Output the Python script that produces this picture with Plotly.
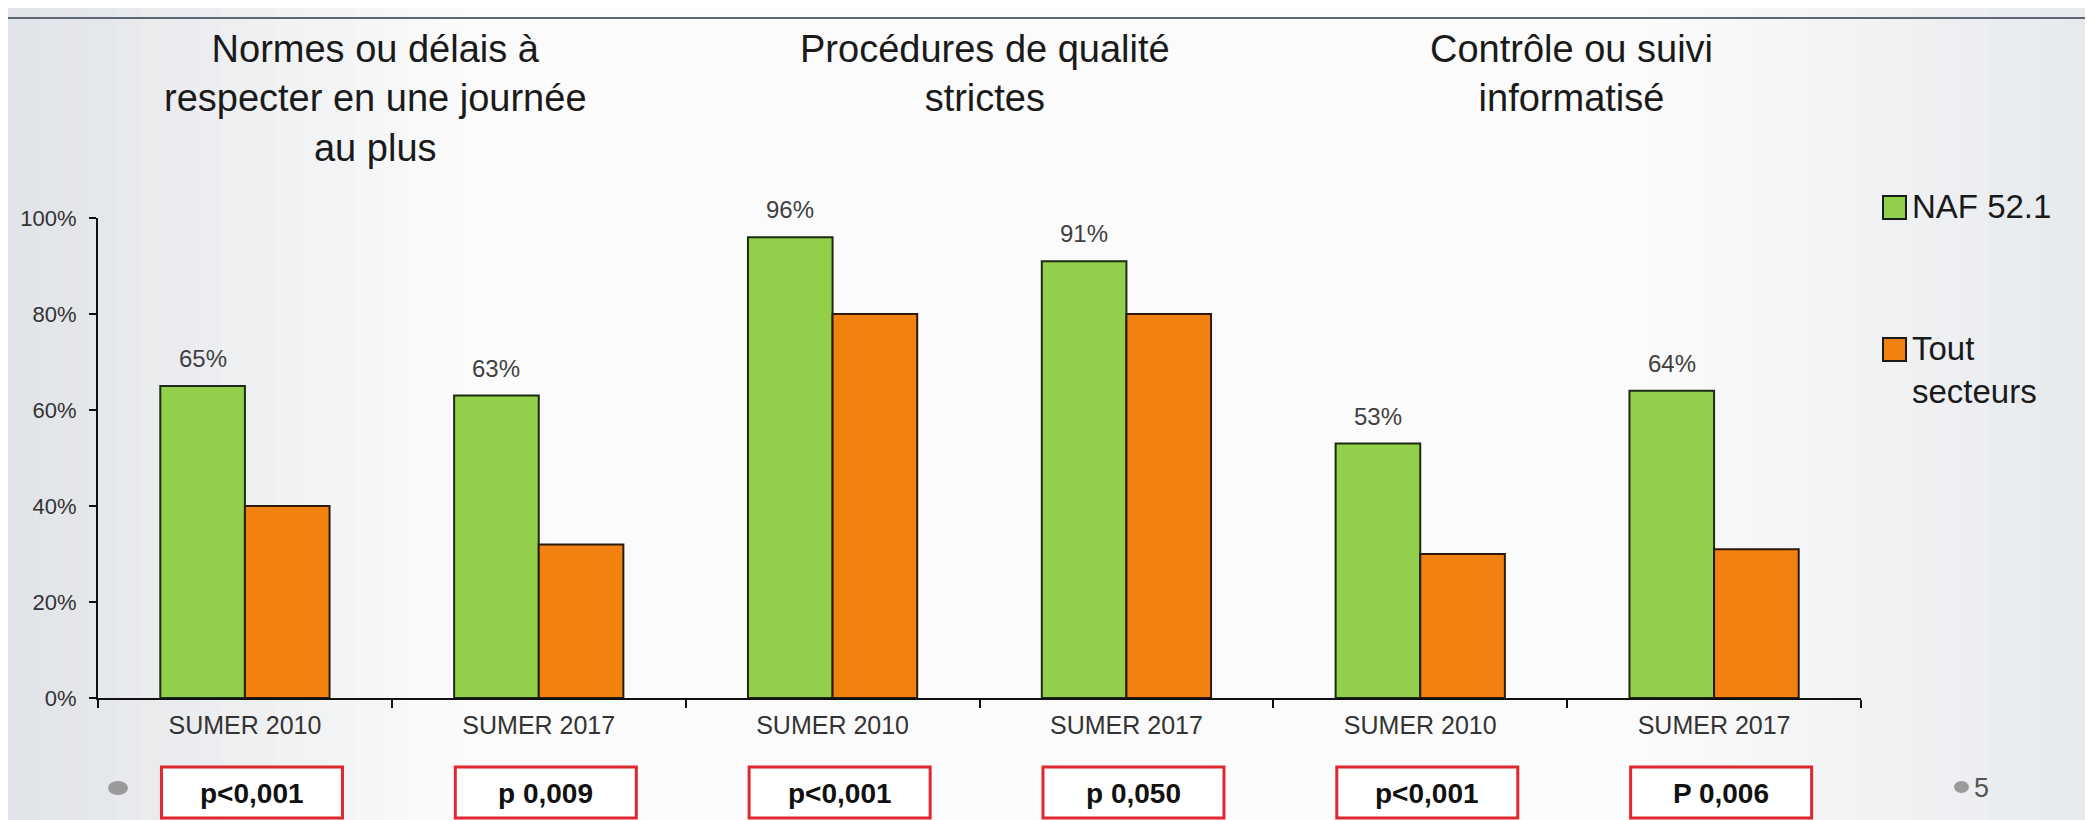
import plotly.graph_objects as go

# ---------------- data ----------------
topics = ["Normes ou délais à<br>respecter en une journée<br>au plus",
          "Procédures de qualité<br>strictes",
          "Contrôle ou suivi<br>informatisé"]
categories = ["SUMER 2010", "SUMER 2017", "SUMER 2010", "SUMER 2017", "SUMER 2010", "SUMER 2017"]
naf_values = [65, 63, 96, 91, 53, 64]
tout_values = [40, 32, 80, 80, 30, 31]
naf_labels = ["65%", "63%", "96%", "91%", "53%", "64%"]
p_values = ["p<0,001", "p 0,009", "p<0,001", "p 0,050", "p<0,001", "P 0,006"]
series_names = ["NAF 52.1", "Tout<br>secteurs"]
y_ticks = [0, 20, 40, 60, 80, 100]
slide_number = "5"

# ---------------- geometry helpers ----------------
W, H = 2093, 820
L, R, T, B = 90, 240, 210, 130
PW, PH = W - L - R, H - T - B


def px_x(p):
    return (p - L) / PW


def px_y(p):
    return (H - B - p) / PH


FONT = "Liberation Sans, Arial, sans-serif"
GREEN = "#92cf4a"
ORANGE = "#f2810f"
BAR_W = 0.288
xs = list(range(len(categories)))
title_xshift = [-16, 5, 4]

fig = go.Figure()
fig.add_trace(go.Bar(x=xs, y=naf_values, width=BAR_W, offset=-BAR_W, name=series_names[0],
                     marker=dict(color=GREEN, line=dict(color="#1f2a14", width=2)), showlegend=False))
fig.add_trace(go.Bar(x=xs, y=tout_values, width=BAR_W, offset=0, name=series_names[1],
                     marker=dict(color=ORANGE, line=dict(color="#2a1a0a", width=2)), showlegend=False))

shapes = []
annotations = []


def mix(c1, c2, t):
    return "rgb(%d,%d,%d)" % tuple(round(a + (b - a) * t) for a, b in zip(c1, c2))


# background gradient strips
edge_l = (224, 227, 231)
edge_r = (230, 233, 237)
white = (252, 252, 252)
n = 18
for k in range(n):
    x0 = 480 * k / n
    x1 = 480 * (k + 1) / n + 1
    shapes.append(dict(type="rect", xref="paper", yref="paper", layer="below",
                       x0=px_x(x0), x1=px_x(x1), y0=px_y(H), y1=px_y(0),
                       fillcolor=mix(edge_l, white, (k + 0.5) / n), line=dict(width=0)))
for k in range(n):
    x0 = 1620 + 465 * k / n
    x1 = 1620 + 465 * (k + 1) / n + 1
    shapes.append(dict(type="rect", xref="paper", yref="paper", layer="below",
                       x0=px_x(x0), x1=px_x(x1), y0=px_y(H), y1=px_y(0),
                       fillcolor=mix(white, edge_r, (k + 0.5) / n), line=dict(width=0)))
shapes.append(dict(type="rect", xref="paper", yref="paper", layer="below",
                   x0=px_x(2085), x1=px_x(W), y0=px_y(H), y1=px_y(0),
                   fillcolor="#dfe6ee", line=dict(width=0)))
shapes.append(dict(type="line", xref="paper", yref="paper",
                   x0=px_x(0), x1=px_x(2085), y0=px_y(10), y1=px_y(10),
                   line=dict(color="#5d6873", width=2)))
shapes.append(dict(type="line", xref="paper", yref="paper",
                   x0=px_x(2085), x1=px_x(2085), y0=px_y(10), y1=px_y(H),
                   line=dict(color="#8e9aa7", width=2)))

# topic titles
for g, t in enumerate(topics):
    annotations.append(dict(text=t, xref="x", yref="paper", x=2 * g + 0.5, y=px_y(18),
                            xshift=title_xshift[g],
                            xanchor="center", yanchor="top", showarrow=False, align="center",
                            font=dict(family=FONT, size=38, color="#1a1a1a")))

# data labels on NAF bars
for i, (v, lab) in enumerate(zip(naf_values, naf_labels)):
    annotations.append(dict(text=lab, xref="x", yref="y", x=i - BAR_W / 2, y=v,
                            xanchor="center", yanchor="bottom", yshift=12, showarrow=False,
                            font=dict(family=FONT, size=24, color="#404040")))

# p-value boxes
for i, p in enumerate(p_values):
    shapes.append(dict(type="rect", xref="x", yref="paper",
                       x0=i - 0.284, x1=i + 0.332, y0=px_y(810), y1=px_y(759),
                       fillcolor="#ffffff", line=dict(color="#e0262f", width=3)))
    annotations.append(dict(text=p, xref="x", yref="paper", x=i + 0.024, y=px_y(785),
                            xanchor="center", yanchor="middle", showarrow=False,
                            font=dict(family=FONT, size=28, color="#111111", weight="bold")))

# custom legend
for name, color, top in [(series_names[0], GREEN, 188), (series_names[1], ORANGE, 330)]:
    shapes.append(dict(type="rect", xref="paper", yref="paper",
                       x0=px_x(1875), x1=px_x(1898), y0=px_y(top + 23), y1=px_y(top),
                       fillcolor=color, line=dict(color="#1a1a1a", width=2)))
    annotations.append(dict(text=name, xref="paper", yref="paper", x=px_x(1902), y=px_y(top - 10),
                            xanchor="left", yanchor="top", showarrow=False, align="left",
                            font=dict(family=FONT, size=33, color="#1a1a1a")))

# slide bullets and number
shapes.append(dict(type="circle", xref="paper", yref="paper",
                   x0=px_x(100), x1=px_x(120), y0=px_y(787), y1=px_y(773),
                   fillcolor="#9a9a9a", line=dict(width=0)))
shapes.append(dict(type="circle", xref="paper", yref="paper",
                   x0=px_x(1946), x1=px_x(1961), y0=px_y(785), y1=px_y(773),
                   fillcolor="#9a9a9a", line=dict(width=0)))
annotations.append(dict(text=slide_number, xref="paper", yref="paper", x=px_x(1964), y=px_y(780),
                        xanchor="left", yanchor="middle", showarrow=False,
                        font=dict(family=FONT, size=27, color="#555555")))

fig.update_layout(
    width=W, height=H,
    margin=dict(l=L, r=R, t=T, b=B, pad=0),
    paper_bgcolor="#fbfbfb", plot_bgcolor="rgba(0,0,0,0)",
    barmode="overlay", showlegend=False,
    shapes=shapes, annotations=annotations,
    font=dict(family=FONT, color="#333333"),
    xaxis=dict(range=[-0.5, len(categories) - 0.5], tickmode="array", tickvals=xs, ticktext=categories,
               ticks="", showgrid=False, zeroline=False, showline=True, linecolor="#111111", linewidth=2,
               tickfont=dict(family=FONT, size=25, color="#333333"), ticklabelstandoff=4,
               minor=dict(tick0=-0.5, dtick=1, ticks="outside", ticklen=8, tickwidth=2,
                          tickcolor="#111111", showgrid=False),
               fixedrange=True),
    yaxis=dict(range=[0, 100], tickmode="array", tickvals=y_ticks,
               ticktext=[f"{t}%" for t in y_ticks], ticks="outside", ticklen=7, tickwidth=2,
               tickcolor="#111111", showgrid=False, zeroline=False, showline=True,
               linecolor="#111111", linewidth=2, ticklabelstandoff=8,
               tickfont=dict(family=FONT, size=22, color="#333333"), fixedrange=True),
)

fig.write_html("out.html")
